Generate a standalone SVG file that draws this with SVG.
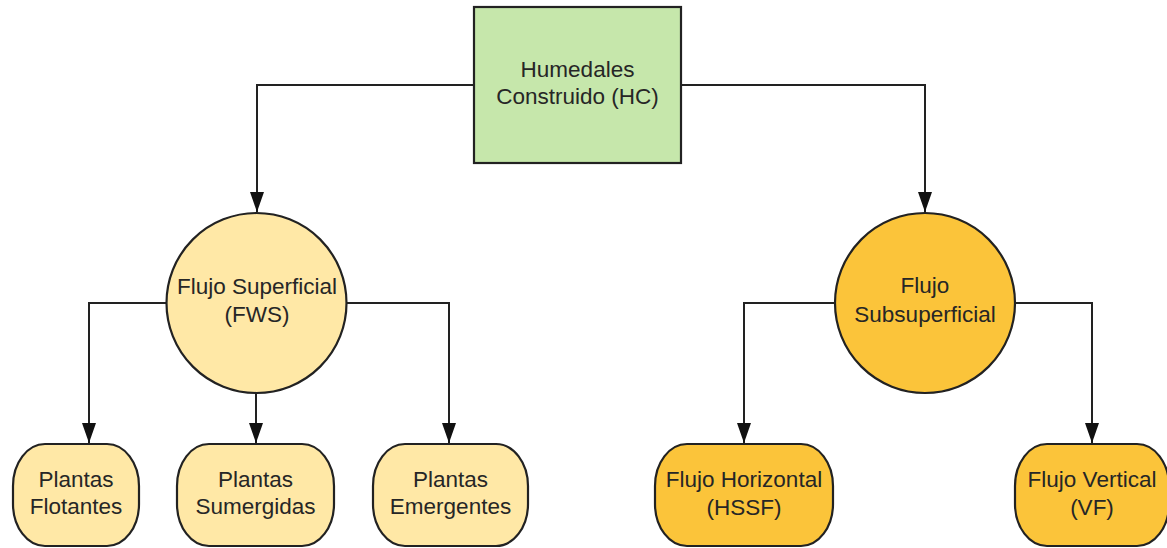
<svg xmlns="http://www.w3.org/2000/svg" width="1167" height="548" viewBox="0 0 1167 548">
<style>
.t{font-family:"Liberation Sans",Arial,sans-serif;font-size:22.5px;fill:#262626;text-anchor:middle}
.s{stroke:#222;stroke-width:2.2}
.c{fill:none;stroke:#222;stroke-width:2}
.g{fill:#c6e7ab}
.ly{fill:#ffe8a6}
.dy{fill:#fbc43a}
</style>
<defs>
<marker id="ah" markerUnits="userSpaceOnUse" markerWidth="22" markerHeight="16" refX="20" refY="7" orient="auto" viewBox="0 0 22 16">
<path d="M0,0 L20,7 L0,14 z" fill="#111"/>
</marker>
</defs>
<rect width="1167" height="548" fill="#fff"/>
<g id="connectors">
<path class="c" d="M474,85 H257 V212" marker-end="url(#ah)"/>
<path class="c" d="M681,85 H925 V212" marker-end="url(#ah)"/>
<path class="c" d="M166,303 H89 V443" marker-end="url(#ah)"/>
<path class="c" d="M256,393 V443" marker-end="url(#ah)"/>
<path class="c" d="M347,303 H449 V443" marker-end="url(#ah)"/>
<path class="c" d="M835,303 H744 V443" marker-end="url(#ah)"/>
<path class="c" d="M1015,303 H1092 V443" marker-end="url(#ah)"/>
</g>
<g id="hc">
<rect class="g s" x="474" y="7" width="207" height="156"/>
<text class="t" x="577.5" y="77">Humedales</text>
<text class="t" x="577.5" y="104">Construido (HC)</text>
</g>
<g id="fws">
<circle class="ly s" cx="256.5" cy="303" r="90"/>
<text class="t" x="257" y="294">Flujo Superficial</text>
<text class="t" x="257" y="322">(FWS)</text>
</g>
<g id="ssf">
<circle class="dy s" cx="925" cy="303" r="90"/>
<text class="t" x="925" y="293">Flujo</text>
<text class="t" x="925" y="322">Subsuperficial</text>
</g>
<g id="flotantes">
<rect class="ly s" x="13" y="444" width="126" height="102" rx="32" ry="42"/>
<text class="t" x="76" y="487">Plantas</text>
<text class="t" x="76" y="514">Flotantes</text>
</g>
<g id="sumergidas">
<rect class="ly s" x="177" y="444" width="157" height="102" rx="32" ry="42"/>
<text class="t" x="255.5" y="487">Plantas</text>
<text class="t" x="255.5" y="514">Sumergidas</text>
</g>
<g id="emergentes">
<rect class="ly s" x="373" y="444" width="155" height="102" rx="32" ry="42"/>
<text class="t" x="450.5" y="487">Plantas</text>
<text class="t" x="450.5" y="514">Emergentes</text>
</g>
<g id="hssf">
<rect class="dy s" x="655" y="444" width="178" height="102" rx="32" ry="42"/>
<text class="t" x="744" y="487">Flujo Horizontal</text>
<text class="t" x="744" y="515">(HSSF)</text>
</g>
<g id="vf">
<rect class="dy s" x="1015" y="444" width="154" height="102" rx="32" ry="42"/>
<text class="t" x="1092" y="487">Flujo Vertical</text>
<text class="t" x="1092" y="515">(VF)</text>
</g>
</svg>
